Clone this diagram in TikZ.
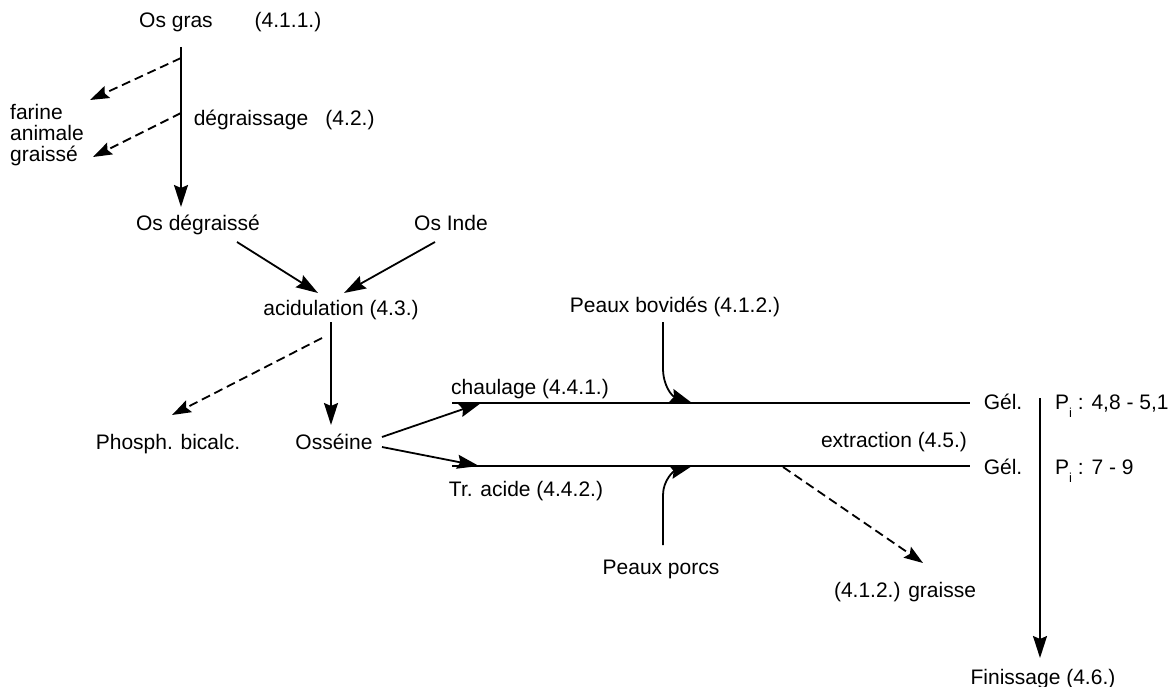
\documentclass[tikz,border=0pt]{standalone}
\usepackage{fontspec}
\setmainfont{Liberation Sans}
\usetikzlibrary{arrows.meta}
\begin{document}
\begin{tikzpicture}[x=1pt,y=-1pt,
  lbl/.style={inner sep=0pt, font=\fontsize{21}{25}\selectfont, text height=15pt, text depth=0pt},
  multilbl/.style={inner sep=0pt, font=\fontsize{21}{21}\selectfont, align=left},
  flow/.style={line width=1.8pt, -{Stealth[length=22pt,width=14pt,inset=3pt]}},
  side/.style={line width=1.8pt, dash pattern=on 9pt off 5pt, -{Stealth[length=19pt,width=13pt,inset=3pt]}},
  bar/.style={line width=1.8pt}]
\useasboundingbox (0,0) rectangle (1175,687);

% texts
\node[lbl] (osgras) at (176,20) {Os gras};
\node[lbl] (r411) at (288,20) {(4.1.1.)};
\node[multilbl, anchor=west] (farine) at (10,135) {farine\\animale\\graissé};
\node[lbl] (degr) at (251,118) {dégraissage};
\node[lbl] (r42) at (350,118) {(4.2.)};
\node[lbl] (osdeg) at (198,223) {Os dégraissé};
\node[lbl] (osinde) at (451,223) {Os Inde};
\node[lbl] (acid) at (341,308) {acidulation (4.3.)};
\node[lbl] (phosph) at (168,442) {Phosph. bicalc.};
\node[lbl] (osseine) at (334,442) {Osséine};
\node[lbl] (chaul) at (530,387) {chaulage (4.4.1.)};
\node[lbl] (tracide) at (526,489) {Tr. acide (4.4.2.)};
\node[lbl] (bovides) at (675,305) {Peaux bovidés (4.1.2.)};
\node[lbl] (porcs) at (661,567) {Peaux porcs};
\node[lbl] (graisse) at (905,590) {(4.1.2.) graisse};
\node[lbl] (extr) at (894,440) {extraction (4.5.)};
\node[lbl] (gel1) at (1003,402) {Gél.};
\node[lbl] (gel2) at (1003,467) {Gél.};
\node[lbl, anchor=west] (p1) at (1055,402) {P\raisebox{-0.4em}{\fontsize{13}{13}\selectfont i} : 4,8 - 5,1};
\node[lbl, anchor=west] (p2) at (1055,467) {P\raisebox{-0.4em}{\fontsize{13}{13}\selectfont i} : 7 - 9};
\node[lbl] (finis) at (1043,677) {Finissage (4.6.)};

% connection points
\coordinate (v1a) at (181,47);
\coordinate (v1b) at (181,207);
\coordinate (d1a) at (181,58);
\coordinate (d1b) at (90,100);
\coordinate (d2a) at (181,113);
\coordinate (d2b) at (93,157);
\coordinate (a1a) at (237,242);
\coordinate (a1b) at (318,293);
\coordinate (a2a) at (435,242);
\coordinate (a2b) at (344,293);
\coordinate (v2a) at (331,322);
\coordinate (v2b) at (331,425);
\coordinate (d3a) at (322,338);
\coordinate (d3b) at (172,415);
\coordinate (o1a) at (382,437);
\coordinate (o1b) at (481,403);
\coordinate (o2a) at (382,447);
\coordinate (o2b) at (479,466);
\coordinate (l1a) at (452,403);
\coordinate (l1b) at (970,403);
\coordinate (l2a) at (452,466);
\coordinate (l2b) at (970,466);
\coordinate (b1) at (663,322);
\coordinate (b2) at (663,368);
\coordinate (b3) at (692,403);
\coordinate (c1) at (663,545);
\coordinate (c2) at (663,495);
\coordinate (c3) at (692,466);
\coordinate (d4a) at (783,467);
\coordinate (d4b) at (923,563);
\coordinate (v3a) at (1040,398);
\coordinate (v3b) at (1040,658);

% process lines
\draw[bar] (l1a) -- (l1b);
\draw[bar] (l2a) -- (l2b);

% main flow
\draw[flow] (v1a) -- (v1b);
\draw[flow] (a1a) -- (a1b);
\draw[flow] (a2a) -- (a2b);
\draw[flow] (v2a) -- (v2b);
\draw[flow] (o1a) -- (o1b);
\draw[flow] (o2a) -- (o2b);
\draw[flow] (b1) -- (b2) .. controls (663,386) and (672,396) .. (b3);
\draw[flow] (c1) -- (c2) .. controls (663,480) and (674,471) .. (c3);
\draw[flow] (v3a) -- (v3b);

% by-products
\draw[side] (d1a) -- (d1b);
\draw[side] (d2a) -- (d2b);
\draw[side] (d3a) -- (d3b);
\draw[side] (d4a) -- (d4b);
\end{tikzpicture}
\end{document}
